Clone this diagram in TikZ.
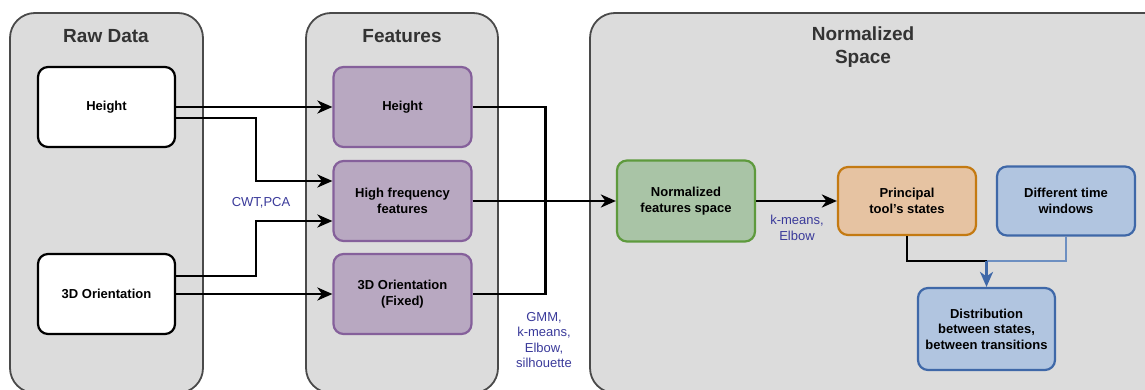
\documentclass[tikz,border=0pt]{standalone}
\usepackage{fontspec}
\setmainfont{Liberation Sans}
\usetikzlibrary{arrows.meta}

\definecolor{panelfill}{HTML}{DCDCDC}
\definecolor{panelline}{HTML}{4A4A4A}
\definecolor{titlegray}{HTML}{333333}
\definecolor{featfill}{HTML}{B8A8C1}
\definecolor{featline}{HTML}{85609B}
\definecolor{normfill}{HTML}{A9C4A6}
\definecolor{normline}{HTML}{5E9A3D}
\definecolor{statefill}{HTML}{E6C3A2}
\definecolor{stateline}{HTML}{C47A12}
\definecolor{winfill}{HTML}{B1C5E0}
\definecolor{winline}{HTML}{3F68A8}
\definecolor{winlink}{HTML}{6D8FC1}
\definecolor{lblblue}{HTML}{3A3A9A}

\tikzset{every node/.style={font=\fontsize{13}{15.5}\selectfont\bfseries, align=center}}

\begin{document}
\begin{tikzpicture}[x=1pt, y=-1pt,
			panel/.style={draw=panelline, fill=panelfill, line width=1.8pt, rounded corners=25pt},
			title/.style={font=\fontsize{19}{23}\selectfont\bfseries, text=titlegray},
			box/.style={line width=2.2pt, rounded corners=10pt, minimum width=138pt, minimum height=80pt, inner sep=2pt},
			rawbox/.style={box, draw=black, fill=white},
			featbox/.style={box, draw=featline, fill=featfill},
			lbl/.style={font=\fontsize{13}{15.5}\selectfont, text=lblblue},
			link/.style={line width=2.6pt},
			arr/.style={link, -{Stealth[length=15pt, width=13pt, inset=4.5pt]}},
			]
			
			\useasboundingbox (0,0) rectangle (1145,390);
			\clip (0,0) rectangle (1145,390);
			
			% Panels (bottom runs off the page)
			\draw[panel] (10,13) rectangle (203,393);
			\draw[panel] (306,13) rectangle (498,393);
			\draw[panel] (590,13) rectangle (1175,393);
			\node[title] (rawtitle) at (106,36) {Raw Data};
			\node[title] (feattitle) at (402,36) {Features};
			\node[title] (normtitle) at (863,47) {Normalized\\Space};
			
			% Raw data
			\node[rawbox, minimum width=137pt] (rawh) at (106.5,107) {Height};
			\node[rawbox, minimum width=137pt] (rawo) at (106.5,294) {3D Orientation};
			
			% Features
			\foreach \name/\y/\txt in {fh/107/Height, hf/201/High frequency\\features, fo/294/3D Orientation\\(Fixed)} {
				\node[featbox] (\name) at (402.5,\y) {\txt};
			}
			
			% Normalized space
			\node[box, draw=normline, fill=normfill, minimum height=81pt] (nfs) at (686,201) {Normalized\\features space};
			\node[box, draw=stateline, fill=statefill, minimum height=68pt] (pts) at (907,201) {Principal\\tool's states};
			\node[box, draw=winline, fill=winfill, minimum height=69pt] (dtw) at (1066,201) {Different time\\windows};
			\node[box, draw=winline, fill=winfill, minimum width=137pt, minimum height=82pt] (dist) at (986.5,329) {Distribution\\between states,\\between transitions};
			
			% Labels
			\node[lbl] (cwt) at (261,203) {CWT,PCA};
			\node[lbl, font=\fontsize{13}{15.3}\selectfont] (gmm) at (544,340) {GMM,\\k-means,\\Elbow,\\silhouette};
			\node[lbl] (kme) at (797,228) {k-means,\\Elbow};
			
			% Raw data -> features
			\draw[arr] (rawh.east) -- (fh.west);
			\draw[arr] ([yshift=-11pt]rawh.east) -- ++(80,0) |- ([yshift=20pt]hf.west);
			\draw[arr] ([yshift=18pt]rawo.east) -- ++(80,0) |- ([yshift=-20pt]hf.west);
			\draw[arr] (rawo.east) -- (fo.west);
			
			% Features -> normalized space
			\draw[link] (fh.east) -- ++(73,0) |- (fo.east);
			\draw[arr] (hf.east) -- (nfs.west);
			\draw[arr] (nfs.east) -- (pts.west);
			
			% States and windows -> distribution
			\coordinate (merge) at ([yshift=26pt]dist.north);
			\draw[link] (pts.south) |- (merge);
			\draw[link, draw=winlink] (dtw.south) |- (merge);
			\draw[arr, draw=winline, fill=winline] (merge) -- (dist.north);
			
		\end{tikzpicture}
\end{document}
